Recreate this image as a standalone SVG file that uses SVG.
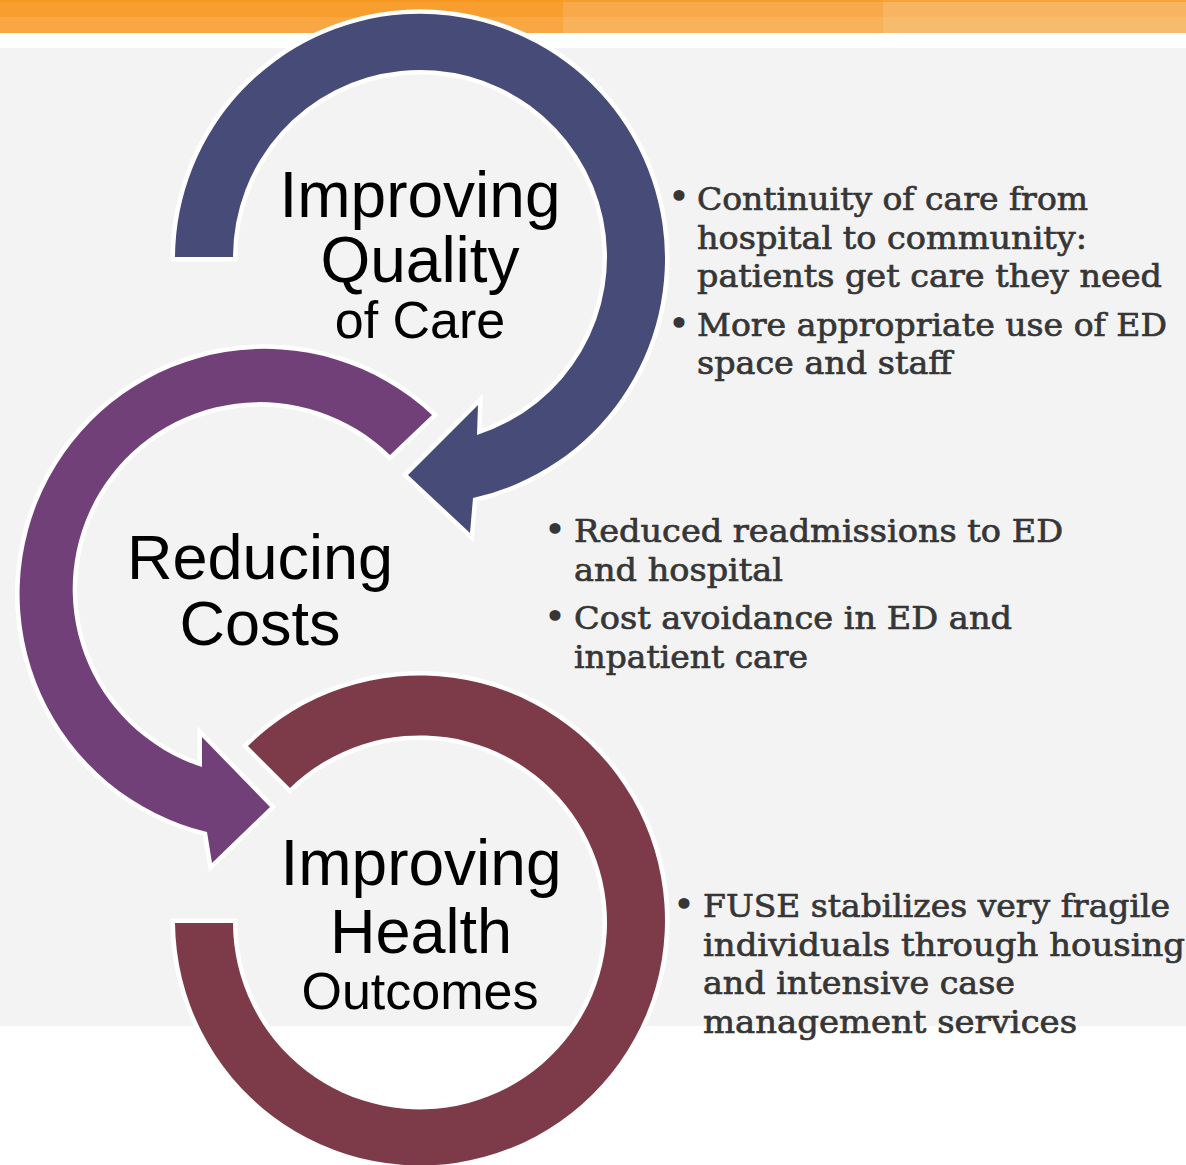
<svg xmlns="http://www.w3.org/2000/svg" width="1186" height="1165" viewBox="0 0 1186 1165">
  <style>
    .ring { stroke: #ffffff; stroke-width: 9; stroke-linejoin: miter; paint-order: stroke; }
    .navy { fill: #474B77; }
    .purple { fill: #714079; }
    .maroon { fill: #7D3B4A; }
    .title { font-family: "Liberation Sans", Arial, sans-serif; fill: #000000; text-anchor: middle; }
    .body { font-family: "DejaVu Serif", "Liberation Serif", serif; font-size: 32px; fill: #363636; stroke: #363636; stroke-width: 0.7; }
    .dot { font-family: "DejaVu Serif", "Liberation Serif", serif; font-size: 38px; fill: #363636; text-anchor: middle; }
  </style>

  <!-- page background -->
  <rect x="0" y="0" width="1186" height="1165" fill="#ffffff"/>
  <rect x="0" y="48" width="1186" height="978" fill="#F3F3F3"/>

  <!-- orange header band -->
  <g id="header">
    <rect x="0" y="0" width="563" height="17" fill="#F89E2F"/>
    <rect x="0" y="17" width="563" height="16" fill="#F8A743"/>
    <rect x="563" y="0" width="320" height="17" fill="#F8AA4A"/>
    <rect x="563" y="17" width="320" height="16" fill="#F8B259"/>
    <rect x="883" y="0" width="303" height="17" fill="#F7B562"/>
    <rect x="883" y="17" width="303" height="16" fill="#F7BB6D"/>
    <rect x="0" y="0" width="1186" height="2" fill="#F7941D" opacity="0.6"/>
  </g>

  <!-- circular arrows -->
  <g id="connectors">
    <path id="arrow-quality" class="ring navy"
          d="M175,257 A245,245 0 1 1 473,498 L470,533 L408,475 L478,405 L477,435 A187,187 0 1 0 233,257 Z"/>
    <path id="arrow-costs" class="ring purple"
          d="M432,415 A245,245 0 1 0 207,832 L212,863 L270,807 L202,737 L202,767 A187,187 0 1 1 390,455 Z"/>
    <path id="arrow-health" class="ring maroon"
          d="M248,746 A245,245 0 1 1 175,923 L233,923 A187,187 0 1 0 290,788 Z"/>
  </g>

  <!-- node: quality of care -->
  <g id="node-quality">
    <text class="title" x="420" y="217" font-size="64">Improving</text>
    <text class="title" x="420" y="282" font-size="64">Quality</text>
    <text class="title" x="420" y="338" font-size="52">of Care</text>
    <text class="dot" x="679" y="209">•</text>
    <text class="body" x="697" y="209.5" textLength="391" lengthAdjust="spacingAndGlyphs">Continuity of care from</text>
    <text class="body" x="697" y="248.5" textLength="390" lengthAdjust="spacingAndGlyphs">hospital to community:</text>
    <text class="body" x="697" y="287" textLength="465" lengthAdjust="spacingAndGlyphs">patients get care they need</text>
    <text class="dot" x="679" y="336">•</text>
    <text class="body" x="697" y="336" textLength="470" lengthAdjust="spacingAndGlyphs">More appropriate use of ED</text>
    <text class="body" x="697" y="374" textLength="255" lengthAdjust="spacingAndGlyphs">space and staff</text>
  </g>

  <!-- node: reducing costs -->
  <g id="node-costs">
    <text class="title" x="260" y="579" font-size="63">Reducing</text>
    <text class="title" x="260" y="645" font-size="63">Costs</text>
    <text class="dot" x="555" y="542">•</text>
    <text class="body" x="574" y="542" textLength="489" lengthAdjust="spacingAndGlyphs">Reduced readmissions to ED</text>
    <text class="body" x="574" y="581" textLength="209" lengthAdjust="spacingAndGlyphs">and hospital</text>
    <text class="dot" x="555" y="629">•</text>
    <text class="body" x="574" y="629" textLength="438" lengthAdjust="spacingAndGlyphs">Cost avoidance in ED and</text>
    <text class="body" x="574" y="668" textLength="234" lengthAdjust="spacingAndGlyphs">inpatient care</text>
  </g>

  <!-- node: health outcomes -->
  <g id="node-health">
    <text class="title" x="421" y="885" font-size="64">Improving</text>
    <text class="title" x="421" y="953" font-size="63">Health</text>
    <text class="title" x="420" y="1009" font-size="52">Outcomes</text>
    <text class="dot" x="684" y="917">•</text>
    <text class="body" x="703" y="917" textLength="467" lengthAdjust="spacingAndGlyphs">FUSE stabilizes very fragile</text>
    <text class="body" x="703" y="955.5" textLength="482" lengthAdjust="spacingAndGlyphs">individuals through housing</text>
    <text class="body" x="703" y="994" textLength="312" lengthAdjust="spacingAndGlyphs">and intensive case</text>
    <text class="body" x="703" y="1032.5" textLength="374" lengthAdjust="spacingAndGlyphs">management services</text>
  </g>
</svg>
